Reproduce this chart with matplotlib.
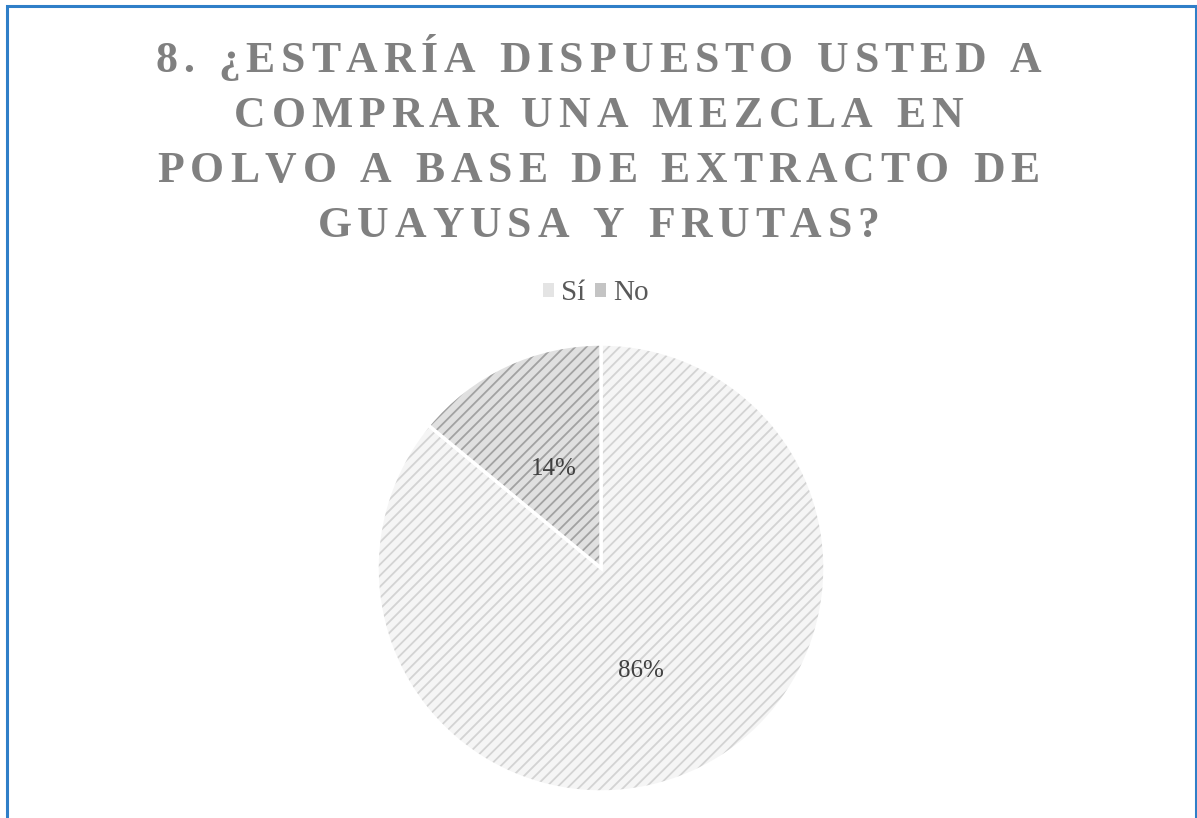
import matplotlib as mpl
mpl.use('Agg')
import matplotlib.pyplot as plt
from matplotlib.patches import Rectangle

# data
labels = ['Sí', 'No']
values = [86, 14]
title_lines = ['8. ¿ESTARÍA DISPUESTO USTED A',
               'COMPRAR UNA MEZCLA EN',
               'POLVO A BASE DE EXTRACTO DE',
               'GUAYUSA Y FRUTAS?']

face = ['#f5f5f5', '#e0e0e0']
hatchc = ['#d3d3d3', '#a2a2a2']

plt.rcParams['font.family'] = ['Liberation Serif', 'DejaVu Serif']
plt.rcParams['hatch.linewidth'] = 1.3

W, H = 1197, 818
fig = plt.figure(figsize=(W / 100, H / 100), dpi=100)

# blue frame
fig.patches.append(Rectangle((7 / W, -0.01), (1196 - 7) / W, (H - 6) / H + 0.01,
                             transform=fig.transFigure, fill=False,
                             edgecolor='#2f7fc8', lw=2.2))

# pie
R = 224
cx, cy = 601, 568
ax = fig.add_axes([(cx - R) / W, (H - cy - R) / H, 2 * R / W, 2 * R / H])
wedges, texts = ax.pie(values, startangle=90, counterclock=False,
                       wedgeprops=dict(edgecolor='white', linewidth=2.5))
for w, fc, hc in zip(wedges, face, hatchc):
    w.set_facecolor(fc)
    w.set_hatch('///')
    w._hatch_color = mpl.colors.to_rgba(hc)
ax.set_xlim(-1, 1)
ax.set_ylim(-1, 1)
ax.set_aspect('auto')

# data labels
lab_pos = [(0.18, -0.46), (-0.21, 0.44)]
for v, (x, y) in zip(values, lab_pos):
    ax.text(x, y, '%d%%' % v, ha='center', va='center', fontsize=18, color='#404040')

# title with letter spacing
renderer = fig.canvas.get_renderer()
track = 5.8
fs = 31.5
line_y = [72, 127, 182, 237]
for line, yy in zip(title_lines, line_y):
    widths = []
    for ch in line:
        t = fig.text(0, 0, ch if ch != ' ' else 'a', fontsize=fs, fontweight='bold')
        widths.append(t.get_window_extent(renderer).width if ch != ' ' else
                      t.get_window_extent(renderer).width * 0.55)
        t.remove()
    total = sum(widths) + track * (len(line) - 1)
    x = W / 2 - total / 2
    for ch, w in zip(line, widths):
        if ch != ' ':
            fig.text(x / W, 1 - yy / H, ch, fontsize=fs, fontweight='bold',
                     color='#808080', ha='left', va='baseline')
        x += w + track

# legend
leg_face = ['#e4e4e4', '#c4c4c4']
hs = [plt.Rectangle((0, 0), 1, 1, facecolor=fc, lw=0) for fc in leg_face]
fig.legend(hs, labels, loc='center', bbox_to_anchor=(596 / W, 1 - 293 / H),
           ncol=2, frameon=False, fontsize=21, handlelength=0.36, handleheight=0.36,
           handletextpad=0.25, columnspacing=0.35, labelcolor='#595959')

fig.savefig('out.png', dpi=100)
